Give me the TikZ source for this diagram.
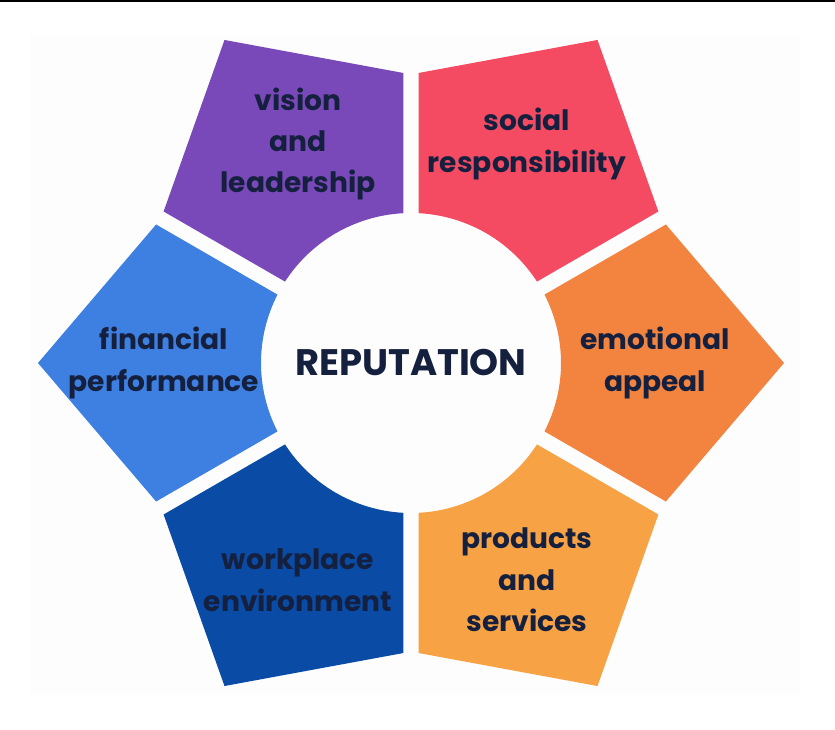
\documentclass[tikz,border=0pt]{standalone}
\usepackage{fontspec}
\setmainfont{Poppins}
\usetikzlibrary{positioning}

\definecolor{visioncol}{HTML}{7A49B9}
\definecolor{socialcol}{HTML}{F44B63}
\definecolor{emotioncol}{HTML}{F2843F}
\definecolor{productcol}{HTML}{F7A244}
\definecolor{workcol}{HTML}{0A4BA6}
\definecolor{financecol}{HTML}{3D80E1}
\definecolor{inkcol}{HTML}{15203F}
\definecolor{paper}{HTML}{FDFDFD}

\tikzset{
  piecelabel/.style={align=center, text=inkcol, font=\bfseries\fontsize{16}{23.6}\selectfont},
  hublabel/.style={text=inkcol, font=\bfseries\fontsize{21}{24}\selectfont}
}

\begin{document}
\begin{tikzpicture}[x=0.02cm,y=0.02cm]
  \useasboundingbox (-411,-367) rectangle (424,363);
  \fill[black] (-411,363) rectangle (424,361) ;      %top rule
  \fill[paper] (-381,-332) rectangle (389,328) ;     %faint sheet

  % six pieces round the hub
  \foreach \a/\col in {0/emotioncol,60/socialcol,120/visioncol,180/financecol,240/workcol,300/productcol}
  {
    \fill[\col,rotate=\a] (373,0) -- (254.9,138.5) -- (133.5,68.4)
      arc[start angle=27.13,end angle=-27.13,radius=150] -- (254.9,-138.5) -- cycle ;
  }

  \node[hublabel] (reputation) at (0,1) {REPUTATION};

  \node[piecelabel] (vision) at (-113,219) {vision\\and\\leadership};
  \node[piecelabel] (social) at (116,219) {social\\responsibility};
  \node[piecelabel] (finance) at (-247,0) {financial\\performance};
  \node[piecelabel] (emotion) at (244,0) {emotional\\appeal};
  \node[piecelabel] (workplace) at (-113,-217) {workplace\\environment};
  \node[piecelabel] (products) at (116,-217) {products\\and\\services};
\end{tikzpicture}
\end{document}
